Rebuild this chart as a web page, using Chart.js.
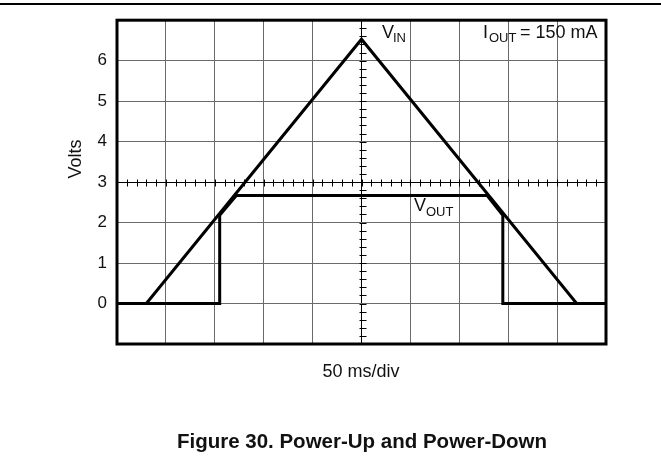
<!DOCTYPE html>
<html>
<head>
<meta charset="utf-8">
<script src="https://cdn.jsdelivr.net/npm/chart.js@4.4.1/dist/chart.umd.min.js"></script>
<style>
  html, body { margin: 0; padding: 0; background: #fff; }
  #wrap { width: 661px; height: 459px; position: relative; }
</style>
</head>
<body>
<div id="wrap"><canvas id="scopeChart" width="661" height="459"></canvas></div>
<script>
// time in divisions (50 ms/div), volts
const vinTime = [0, 0.6, 5, 9.4, 10];
const vinVolts = [0, 0, 6.53, 0, 0];
const voutTime = [0, 2.1, 2.1, 2.44, 7.57, 7.89, 7.89, 10];
const voutVolts = [0, 0, 2.18, 2.67, 2.67, 2.18, 0, 0];
const yTickLabels = [0, 1, 2, 3, 4, 5, 6];

function toPoints(xs, ys) {
    return xs.map((x, i) => ({ x: x, y: ys[i] }));
}

const FONT = "'Liberation Sans', Arial, sans-serif";

// frame, center-axis minor ticks, labels, caption
const scopeDecor = {
    id: "scopeDecor",
    afterDraw(chart) {
        const ctx = chart.ctx;
        const xs = chart.scales.x, ys = chart.scales.y;
        const a = chart.chartArea;
        ctx.save();

        // minor ticks on center axes
        ctx.strokeStyle = "#000";
        ctx.lineWidth = 1;
        const cx = Math.round(xs.getPixelForValue(5)) + 0.5;
        const cy = Math.round(ys.getPixelForValue(3)) + 0.5;
        ctx.beginPath();
        for (let v = -1; v <= 7.001; v += 0.2) {
            const py = Math.round(ys.getPixelForValue(v)) + 0.5;
            ctx.moveTo(cx - 3, py);
            ctx.lineTo(cx + 4, py);
        }
        for (let t = 0; t <= 10.001; t += 0.2) {
            const px = Math.round(xs.getPixelForValue(t)) + 0.5;
            ctx.moveTo(px, cy - 3);
            ctx.lineTo(px, cy + 4);
        }
        ctx.stroke();

        // frame
        ctx.lineWidth = 3;
        ctx.strokeRect(a.left, a.top, a.right - a.left, a.bottom - a.top);

        // top rule
        ctx.lineWidth = 2;
        ctx.beginPath();
        ctx.moveTo(0, 4);
        ctx.lineTo(661, 4);
        ctx.stroke();

        ctx.fillStyle = "#111";
        ctx.textBaseline = "alphabetic";

        // V_IN
        ctx.textAlign = "left";
        ctx.font = "18px " + FONT;
        ctx.fillText("V", 382, 38);
        ctx.font = "13px " + FONT;
        ctx.fillText("IN", 393, 42);

        // I_OUT = 150 mA
        ctx.font = "18px " + FONT;
        ctx.fillText("I", 483, 38);
        ctx.font = "13px " + FONT;
        ctx.fillText("OUT", 489, 42);
        ctx.font = "18px " + FONT;
        ctx.fillText("= 150 mA", 520, 38);

        // V_OUT
        ctx.font = "18px " + FONT;
        ctx.fillText("V", 414, 211);
        ctx.font = "13px " + FONT;
        ctx.fillText("OUT", 426, 216);

        // y-axis title
        ctx.save();
        ctx.translate(81, 159);
        ctx.rotate(-Math.PI / 2);
        ctx.textAlign = "center";
        ctx.font = "18px " + FONT;
        ctx.fillText("Volts", 0, 0);
        ctx.restore();

        // x-axis title
        ctx.textAlign = "center";
        ctx.font = "18px " + FONT;
        ctx.fillText("50 ms/div", 361, 377);

        // caption
        ctx.font = "bold 20.5px " + FONT;
        ctx.fillText("Figure 30. Power-Up and Power-Down", 362, 448);

        ctx.restore();
    }
};

const ctx = document.getElementById("scopeChart").getContext("2d");
new Chart(ctx, {
    type: "line",
    data: {
        datasets: [{
            label: "VIN",
            data: toPoints(vinTime, vinVolts),
            borderColor: "#000",
            borderWidth: 3,
            pointRadius: 0,
            tension: 0,
            fill: false
        }, {
            label: "VOUT",
            data: toPoints(voutTime, voutVolts),
            borderColor: "#000",
            borderWidth: 3,
            pointRadius: 0,
            tension: 0,
            fill: false
        }]
    },
    options: {
        responsive: false,
        animation: false,
        layout: { padding: { left: 0, right: 55, top: 14, bottom: 0 } },
        plugins: {
            legend: { display: false },
            tooltip: { enabled: false }
        },
        scales: {
            x: {
                type: "linear",
                min: 0,
                max: 10,
                ticks: { stepSize: 1, display: false },
                grid: {
                    color: c => c.tick && c.tick.value === 5 ? "#000" : "#6a6a6a",
                    lineWidth: 1,
                    drawTicks: false
                },
                border: { display: false },
                afterFit: s => { s.height = 115; }
            },
            y: {
                min: -1,
                max: 7,
                ticks: {
                    stepSize: 1,
                    padding: 10,
                    color: "#111",
                    font: { family: FONT, size: 17 },
                    callback: v => yTickLabels.includes(v) ? String(v) : ""
                },
                grid: {
                    color: c => c.tick && c.tick.value === 3 ? "#000" : "#6a6a6a",
                    lineWidth: 1,
                    drawTicks: false
                },
                border: { display: false },
                afterFit: s => { s.width = 117; }
            }
        }
    },
    plugins: [scopeDecor]
});
</script>
</body>
</html>
